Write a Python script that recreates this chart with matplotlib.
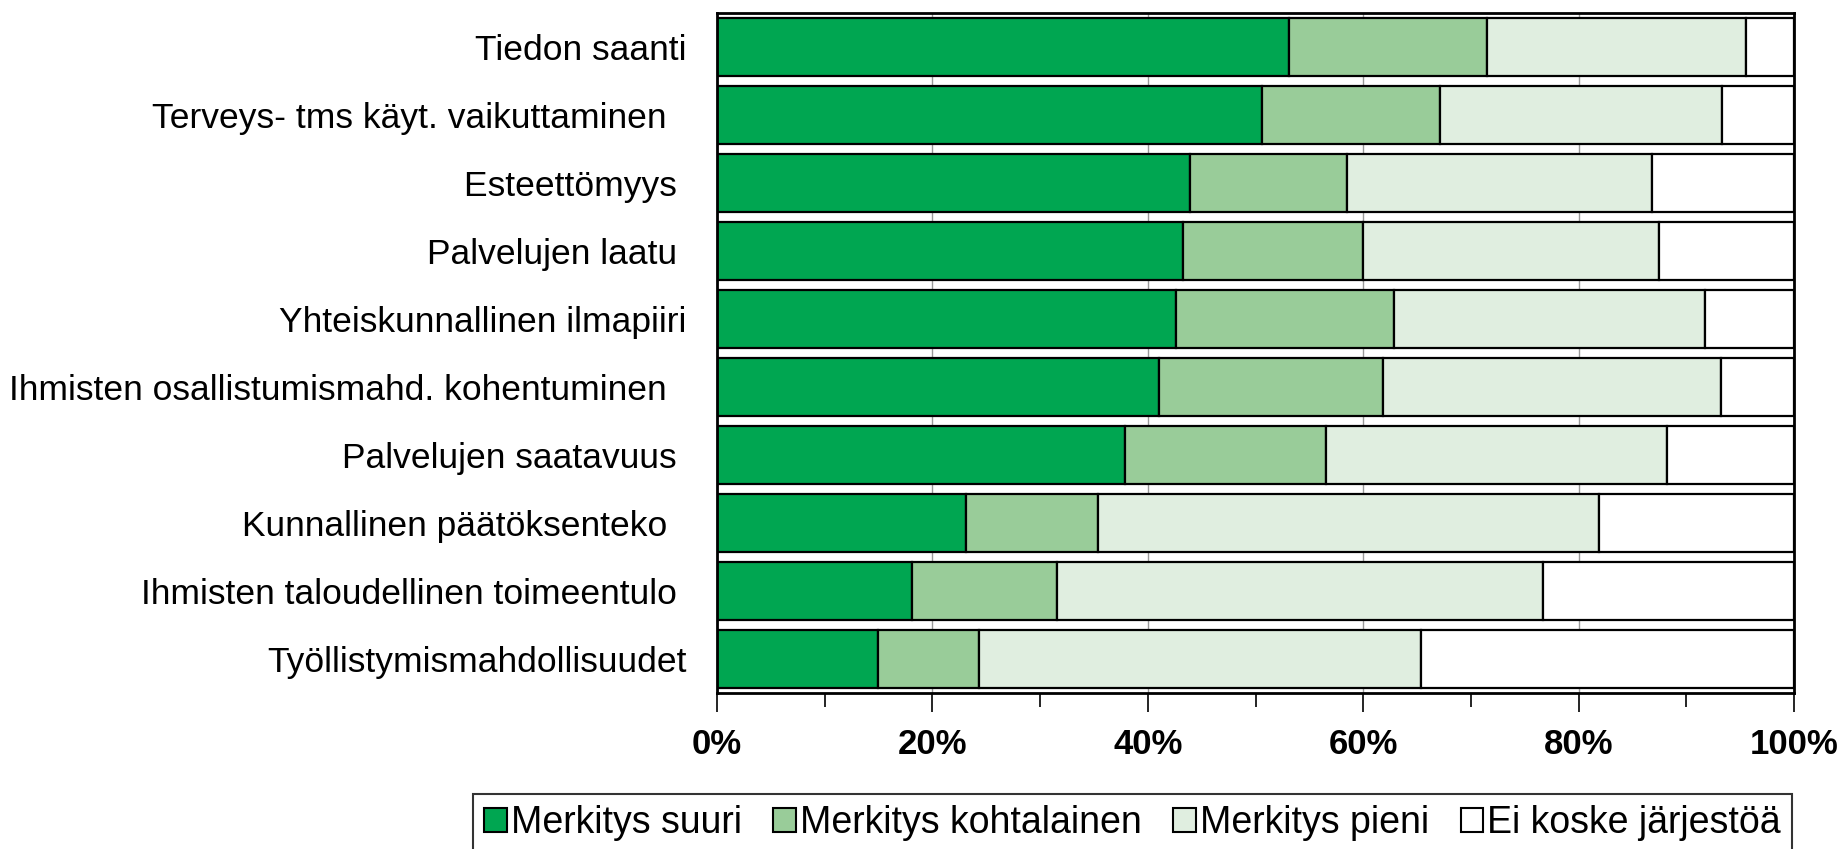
import numpy as np
import matplotlib.pyplot as plt
from matplotlib.patches import Patch
from matplotlib.ticker import MultipleLocator, PercentFormatter

plt.rc('font', family=['Liberation Sans', 'DejaVu Sans'], size=25.5)

categories = ["Tiedon saanti",
              "Terveys- tms käyt. vaikuttaminen  ",
              "Esteettömyys ",
              "Palvelujen laatu ",
              "Yhteiskunnallinen ilmapiiri",
              "Ihmisten osallistumismahd. kohentuminen  ",
              "Palvelujen saatavuus ",
              "Kunnallinen päätöksenteko  ",
              "Ihmisten taloudellinen toimeentulo ",
              "Työllistymismahdollisuudet"]

suuri       = [53.1, 50.6, 43.9, 43.3, 42.6, 41.0, 37.9, 23.1, 18.1, 14.9]
kohtalainen = [18.4, 16.5, 14.6, 16.7, 20.3, 20.8, 18.6, 12.3, 13.5, 9.4]
pieni       = [24.0, 26.2, 28.3, 27.5, 28.8, 31.4, 31.7, 46.5, 45.1, 41.1]
ei_koske    = [4.5, 6.7, 13.2, 12.5, 8.3, 6.8, 11.8, 18.1, 23.3, 34.6]

series = [("Merkitys suuri", suuri, '#00A651'),
          ("Merkitys kohtalainen", kohtalainen, '#99CC99'),
          ("Merkitys pieni", pieni, '#E0EEE0'),
          ("Ei koske järjestöä", ei_koske, '#FFFFFF')]

fig = plt.figure(figsize=(18.41, 8.49), dpi=100)
ax = fig.add_axes([0.3895, 0.1837, 0.585, 0.801])

y = np.arange(len(categories))
left = np.zeros(len(categories))
handles = []
for name, vals, col in series:
    vals = np.array(vals)
    ax.barh(y, vals, left=left, height=0.85, color=col,
            edgecolor='black', linewidth=1.6, zorder=2)
    left += vals
    handles.append(Patch(facecolor=col, edgecolor='black', linewidth=1.5, label=name))

ax.set_ylim(len(categories) - 0.5, -0.5)
ax.set_xlim(0, 100)
ax.set_yticks(y)
ax.set_yticklabels(categories)
ax.tick_params(axis='y', length=0, pad=22)

ax.xaxis.set_major_locator(MultipleLocator(20))
ax.xaxis.set_minor_locator(MultipleLocator(10))
ax.xaxis.set_major_formatter(PercentFormatter(decimals=0))
ax.tick_params(axis='x', which='major', length=14, width=1.2, pad=11, labelsize=25)
ax.tick_params(axis='x', which='minor', length=10, width=1.2)
for lab in ax.get_xticklabels():
    lab.set_fontweight('bold')

ax.grid(axis='x', color='#999999', linewidth=1.0, zorder=0)
ax.set_axisbelow(True)
for side in ['top', 'bottom', 'left', 'right']:
    ax.spines[side].set_linewidth(2.0)

leg = fig.legend(handles=handles, loc='upper left',
                 bbox_to_anchor=(473 / 1841, 1 - 794 / 849),
                 ncol=4, frameon=True, fancybox=False, edgecolor='black',
                 fontsize=27, handlelength=0.6, handleheight=0.6,
                 handletextpad=0.1, columnspacing=0.85, borderpad=0.3,
                 borderaxespad=0)
leg.get_frame().set_linewidth(1.5)

plt.savefig('out.png')
